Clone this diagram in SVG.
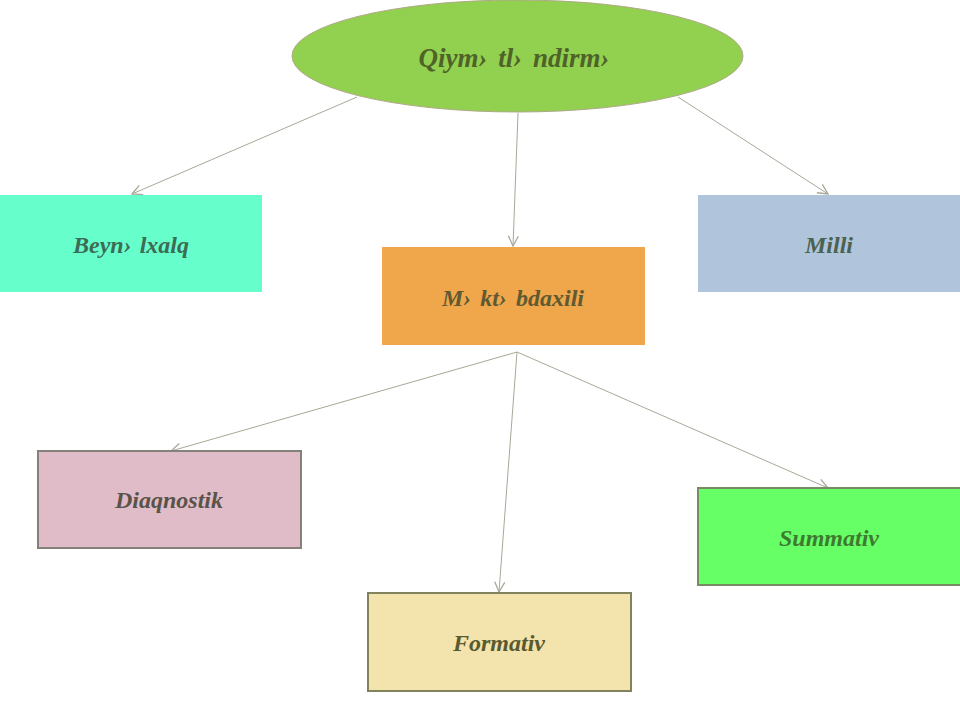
<svg xmlns="http://www.w3.org/2000/svg" width="960" height="720" viewBox="0 0 960 720">
<defs>
<style>
.t{font-family:"Liberation Serif","Times New Roman",serif;font-weight:bold;font-style:italic;font-size:24px;text-anchor:middle;dominant-baseline:central}
.c{stroke:#a8a898;stroke-width:1;fill:none;marker-end:url(#ah)}
</style>
<marker id="ah" viewBox="0 0 12 12" refX="11" refY="6" markerWidth="12" markerHeight="12" markerUnits="userSpaceOnUse" orient="auto">
<path d="M1,1 L11,6 L1,11" fill="none" stroke="#a8a898" stroke-width="1.3"/>
</marker>
</defs>
<rect width="960" height="720" fill="#ffffff"/>
<g id="connectors">
<line class="c" x1="357" y1="97" x2="132" y2="194"/>
<line class="c" x1="518" y1="113" x2="513" y2="246"/>
<line class="c" x1="678" y1="97" x2="828" y2="194"/>
<line class="c" x1="517" y1="352" x2="171" y2="451"/>
<line class="c" x1="517" y1="352" x2="499" y2="592"/>
<line class="c" x1="517" y1="352" x2="828" y2="488"/>
</g>
<g id="root">
<ellipse cx="517.5" cy="56" rx="225.5" ry="56" fill="#92d050" stroke="#b0a888" stroke-width="1"/>
<text class="t" x="514" y="58" style="font-size:27px;word-spacing:4px" fill="#4f6228">Qiym› tl› ndirm›</text>
</g>
<g id="beynelxalq">
<rect x="0" y="195" width="262" height="97" fill="#66ffcc"/>
<text class="t" x="131" y="245" fill="#3d6b55" style="word-spacing:2px">Beyn› lxalq</text>
</g>
<g id="mekdebdaxili">
<rect x="382" y="247" width="263" height="98" fill="#f0a64a"/>
<text class="t" x="513" y="298" fill="#5f5a32" style="word-spacing:3px">M› kt› bdaxili</text>
</g>
<g id="milli">
<rect x="698" y="195" width="262" height="97" fill="#b0c4dc"/>
<text class="t" x="829" y="245" fill="#4a6250">Milli</text>
</g>
<g id="diaqnostik">
<rect x="38" y="451" width="263" height="97" fill="#e0bcc8" stroke="#86807a" stroke-width="2"/>
<text class="t" x="169" y="500" fill="#5a5448">Diaqnostik</text>
</g>
<g id="formativ">
<rect x="368" y="593" width="263" height="98" fill="#f3e3ac" stroke="#82825e" stroke-width="2"/>
<text class="t" x="499" y="643" fill="#5a5a30">Formativ</text>
</g>
<g id="summativ">
<rect x="698" y="488" width="263" height="97" fill="#66ff66" stroke="#7a8a66" stroke-width="2"/>
<text class="t" x="829" y="538" fill="#3d7a30">Summativ</text>
</g>
</svg>
